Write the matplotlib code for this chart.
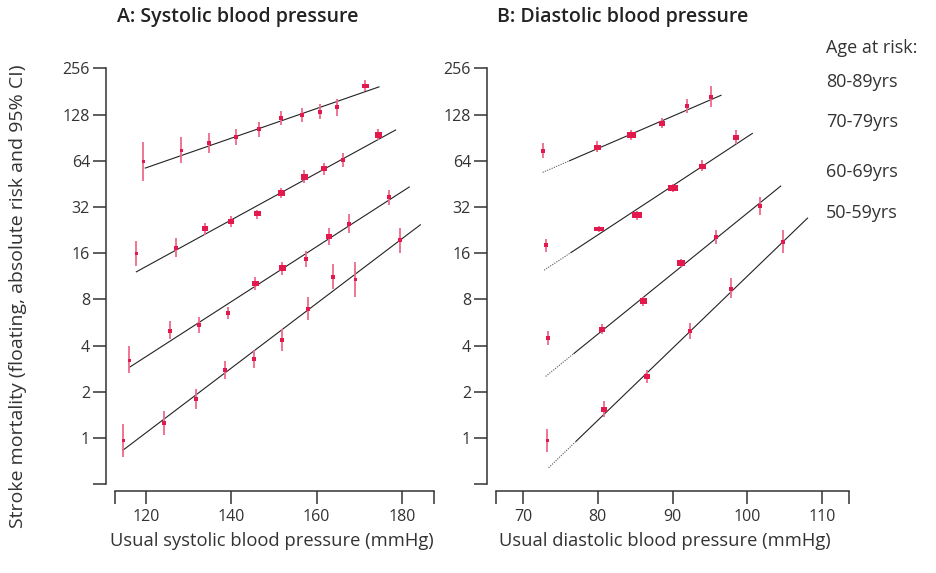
import numpy as np
import matplotlib.pyplot as plt

plt.rcParams['font.family'] = ['Open Sans', 'DejaVu Sans']

age_groups = ["80-89yrs", "70-79yrs", "60-69yrs", "50-59yrs"]

# A: usual systolic blood pressure (mmHg), one row per age group (80-89 ... 50-59)
sys_x = [
    [119.2, 128.2, 134.8, 141.0, 146.5, 151.7, 156.6, 160.8, 164.7, 171.4],
    [117.7, 126.9, 133.7, 140.0, 146.1, 151.7, 157.1, 161.8, 166.2, 174.4],
    [116.0, 125.5, 132.5, 139.3, 145.6, 151.8, 157.5, 162.8, 167.6, 177.0],
    [114.5, 124.2, 131.7, 138.5, 145.3, 151.9, 157.9, 163.8, 169.0, 179.6],
]
sys_rate = [
    [63.5, 75.6, 83.6, 91.5, 102.6, 121.0, 126.6, 132.4, 144.2, 197.6],
    [16.1, 17.2, 23.2, 25.9, 29.1, 39.7, 50.4, 57.2, 64.5, 94.2],
    [3.22, 5.00, 5.48, 6.49, 10.18, 12.75, 14.67, 20.7, 24.9, 37.4],
    [0.97, 1.25, 1.80, 2.77, 3.29, 4.37, 6.96, 11.14, 10.81, 19.41],
]
sys_lo = [
    [47.5, 62.2, 72.3, 81.1, 91.9, 110.1, 115.1, 119.2, 126.0, 181.5],
    [13.2, 15.2, 21.0, 23.8, 26.6, 36.6, 46.1, 52.0, 58.0, 87.4],
    [2.64, 4.44, 4.86, 5.93, 9.21, 11.59, 13.0, 18.2, 21.6, 33.1],
    [0.75, 1.04, 1.55, 2.44, 2.84, 3.71, 5.90, 9.31, 8.33, 16.13],
]
sys_hi = [
    [84.9, 91.0, 96.7, 103.1, 114.5, 134.4, 140.6, 150.1, 162.6, 215.1],
    [19.3, 20.0, 25.0, 28.0, 30.6, 42.6, 55.7, 61.6, 71.6, 102.6],
    [3.98, 5.76, 6.11, 7.17, 11.14, 14.09, 16.45, 23.2, 28.8, 41.3],
    [1.24, 1.50, 2.08, 3.17, 3.74, 5.13, 8.29, 13.54, 14.09, 23.2],
]
# fitted lines (start / end)
sys_fit_x = [[119.8, 174.6], [117.7, 178.5], [116.1, 181.7], [114.5, 184.3]]
sys_fit_y = [[57.4, 194.0], [12.1, 101.6], [2.89, 43.2], [0.83, 24.5]]

# B: usual diastolic blood pressure (mmHg)
dia_x = [
    [72.6, 79.9, 84.5, 88.6, 92.0, 95.1],
    [73.0, 80.2, 85.3, 90.0, 94.0, 98.5],
    [73.3, 80.5, 86.0, 91.1, 95.8, 101.7],
    [73.2, 80.8, 86.6, 92.3, 97.8, 104.8],
]
dia_rate = [
    [74.1, 79.1, 94.7, 112.3, 145.6, 167.5],
    [18.0, 23.0, 28.2, 42.8, 59.5, 91.0],
    [4.51, 5.11, 7.77, 13.74, 20.4, 32.5],
    [0.97, 1.55, 2.54, 5.00, 9.35, 19.0],
]
dia_lo = [
    [67.1, 72.7, 87.4, 104.2, 130.4, 142.7],
    [16.4, 21.9, 26.3, 39.9, 54.9, 81.9],
    [4.04, 4.76, 7.25, 12.94, 18.4, 28.4],
    [0.81, 1.38, 2.27, 4.40, 8.13, 15.97],
]
dia_hi = [
    [84.0, 86.1, 101.6, 122.2, 161.7, 197.6],
    [19.9, 24.2, 30.0, 45.4, 65.1, 101.6],
    [5.00, 5.53, 8.25, 14.6, 22.7, 37.2],
    [1.14, 1.74, 2.77, 5.64, 10.97, 22.7],
]
dia_fit_x = [[72.6, 96.5], [72.8, 100.7], [73.0, 104.5], [73.4, 108.1]]
dia_fit_y = [[53.8, 171.0], [12.4, 96.5], [2.52, 43.8], [0.64, 27.1]]
dia_solid_from = [76.2, 76.4, 76.8, 77.1]  # dotted (extrapolated) below this

y_ticks = [0.5, 1, 2, 4, 8, 16, 32, 64, 128, 256]
sys_ticks = [120, 140, 160, 180]
dia_ticks = [70, 80, 90, 100, 110]

# box sizes in pixels (width, height) -- styling only
sys_box_w = [[3, 3, 3.5, 4, 5, 5, 5, 5, 4, 7],
             [3, 5, 6.5, 6.5, 7, 7, 7, 6, 5, 7],
             [3, 5, 5, 5, 7, 7, 5, 6, 5, 5],
             [3, 4, 4, 4, 4, 4, 4, 4, 3, 4]]
sys_box_h = [[3, 3, 3.5, 4, 5, 5, 5, 5, 4, 4.5],
             [3, 5, 5, 5, 5, 6, 6, 5, 5, 6],
             [3, 5, 5, 5, 5, 6, 5, 5, 5, 5],
             [3, 4, 4, 4, 4, 4, 4, 4, 3, 4]]
dia_box_w = [[4.5, 7, 9, 6, 5, 4],
             [5, 10, 10, 10, 7, 6],
             [4, 6, 7, 8, 5, 5],
             [3, 6, 6, 5, 4, 4]]
dia_box_h = [[4.5, 5, 6, 5, 5, 4],
             [5, 5, 6, 6, 5, 5],
             [3.5, 5, 6, 6, 4, 4],
             [3, 5, 5, 5, 4, 4]]

RED = '#e3184d'
ERR = '#ee6a8c'
W, H, DPI = 937, 573, 100
PT = 72 / DPI


def log_interp(x, fx, fy):
    t = (x - fx[0]) / (fx[1] - fx[0])
    return 2 ** (np.log2(fy[0]) + t * (np.log2(fy[1]) - np.log2(fy[0])))


def box(w, h):
    return [(-w / 2, -h / 2), (w / 2, -h / 2), (w / 2, h / 2), (-w / 2, h / 2), (-w / 2, -h / 2)]


def panel(ax, xs, rates, los, his, bw, bh, fit_x, fit_y, xlim, xticks, solid_from=None):
    for g in range(len(xs)):
        fx, fy = fit_x[g], fit_y[g]
        if solid_from is None:
            ax.plot(fx, fy, color='#222222', lw=0.8, zorder=2)
        else:
            xs0 = solid_from[g]
            ys0 = log_interp(xs0, fx, fy)
            ax.plot([fx[0], xs0], [fy[0], ys0], color='#555555', lw=0.8,
                    ls=(0, (1, 1.2)), zorder=2)
            ax.plot([xs0, fx[1]], [ys0, fy[1]], color='#222222', lw=0.8, zorder=2)
        for i in range(len(xs[g])):
            ax.plot([xs[g][i], xs[g][i]], [los[g][i], his[g][i]], color=ERR,
                    lw=1.3, solid_capstyle='butt', zorder=3)
            w, h = bw[g][i], bh[g][i]
            ax.plot(xs[g][i], rates[g][i], ls='none', marker=box(w, h),
                    markersize=max(w, h) * PT, color=RED, mew=0, zorder=4)

    ax.set_yscale('log', base=2)
    ax.set_ylim(2 ** ((438 - 490.7) / 46.2), 2 ** ((438 - 62) / 46.2))
    ax.set_xlim(*xlim)
    ax.set_yticks(y_ticks)
    ax.set_yticklabels([''] + [str(v) for v in y_ticks[1:]])
    ax.yaxis.set_minor_locator(plt.NullLocator())
    ax.set_xticks([xlim[0]] + xticks + [xlim[1]])
    ax.set_xticklabels([''] + [str(v) for v in xticks] + [''])
    ax.xaxis.set_minor_locator(plt.NullLocator())

    for s in ['top', 'right']:
        ax.spines[s].set_visible(False)
    ax.spines['left'].set_position(('outward', 9 * PT))
    ax.spines['left'].set_bounds(0.5, 256)
    for s in ['left', 'bottom']:
        ax.spines[s].set_linewidth(1.1)
        ax.spines[s].set_color('#333333')
    ax.tick_params(length=9.5, width=1.1, color='#333333', labelcolor='#333333',
                   labelsize=11.5)
    ax.tick_params(axis='x', pad=4)
    ax.tick_params(axis='y', pad=2)
    ax.patch.set_visible(False)


fig = plt.figure(figsize=(W / DPI, H / DPI), dpi=DPI)


def px_axes(l, r, b, t):
    return fig.add_axes([l / W, 1 - b / H, (r - l) / W, (b - t) / H])


ax1 = px_axes(115, 434, 490.7, 62)
ax2 = px_axes(496, 849, 490.7, 62)

panel(ax1, sys_x, sys_rate, sys_lo, sys_hi, sys_box_w, sys_box_h,
      sys_fit_x, sys_fit_y, (112.7, 187.5), sys_ticks)
panel(ax2, dia_x, dia_rate, dia_lo, dia_hi, dia_box_w, dia_box_h,
      dia_fit_x, dia_fit_y, (66.35, 113.65), dia_ticks, solid_from=dia_solid_from)

fig.text(272 / W, 1 - 541 / H, 'Usual systolic blood pressure (mmHg)', ha='center', va='center',
         fontsize=13.2, color='#333333')
fig.text(665 / W, 1 - 541 / H, 'Usual diastolic blood pressure (mmHg)', ha='center', va='center',
         fontsize=13.2, color='#333333')

fig.text(18 / W, 1 - 296 / H, 'Stroke mortality (floating, absolute risk and 95% CI)',
         rotation=90, ha='center', va='center', fontsize=14, color='#333333')

fig.text(117 / W, 1 - 17 / H, 'A: Systolic blood pressure', ha='left', va='center',
         fontsize=14, fontweight='semibold', color='#222222')
fig.text(497 / W, 1 - 17 / H, 'B: Diastolic blood pressure', ha='left', va='center',
         fontsize=14, fontweight='semibold', color='#222222')

fig.text(826 / W, 1 - 48 / H, 'Age at risk:', ha='left', va='center', fontsize=13, color='#333333')
for lab, yp in zip(age_groups, [82, 122, 172, 213]):
    fig.text(826 / W, 1 - yp / H, lab, ha='left', va='center', fontsize=13, color='#333333')

fig.savefig('out.png', dpi=DPI)
